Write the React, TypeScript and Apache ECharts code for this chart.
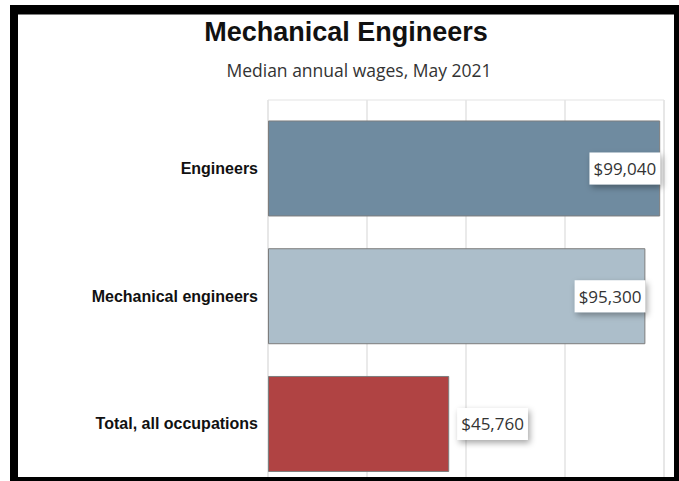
import React, { useEffect, useRef } from "react";
import * as echarts from "echarts";

const titleText = "Mechanical Engineers";
const subtitleText = "Median annual wages, May 2021";
const categories = ["Engineers", "Mechanical engineers", "Total, all occupations"];
const wages = [99040, 95300, 45760];
const barColors = ["#6f8ba0", "#acbeca", "#b04343"];
const axisMin = 0;
const axisMax = 100000;
const axisInterval = 25000;

const fmt = (v: number) => "$" + v.toLocaleString("en-US");

export default function App() {
  const ref = useRef<HTMLDivElement>(null);
  useEffect(() => {
    if (!ref.current) return;
    const chart = echarts.init(ref.current, null, { renderer: "svg" });
    const labelBase = {
      show: true,
      formatter: (p: any) => fmt(p.value),
      fontFamily: "Open Sans",
      fontSize: 17,
      color: "#333333",
      backgroundColor: "#ffffff",
      padding: [6, 4, 6, 4],
      lineHeight: 20,
      shadowColor: "rgba(0,0,0,0.35)",
      shadowBlur: 6,
      shadowOffsetX: 2,
      shadowOffsetY: 3,
    };
    const data = wages.map((v, i) => {
      const inside = v > axisMax * 0.8;
      return {
        value: v,
        itemStyle: { color: barColors[i] },
        label: inside
          ? { ...labelBase, position: "insideRight", distance: 0 }
          : { ...labelBase, position: "right", distance: 8 },
      };
    });
    chart.setOption({
      animation: false,
      backgroundColor: "#ffffff",
      title: [
        {
          text: titleText,
          left: 346,
          top: 18,
          padding: 0,
          textAlign: "center",
          textStyle: {
            fontFamily: "Liberation Sans",
            fontWeight: "bold",
            fontSize: 27,
            color: "#111111",
          },
        },
        {
          text: subtitleText,
          left: 359,
          top: 61,
          padding: 0,
          textAlign: "center",
          textStyle: {
            fontFamily: "Open Sans",
            fontWeight: "normal",
            fontSize: 17.5,
            color: "#333333",
          },
        },
      ],
      grid: [
        {
          left: 268,
          top: 104.6,
          width: 396,
          height: 383.25,
          containLabel: false,
          outerBoundsMode: "none",
        },
        {
          left: 268,
          top: 100,
          width: 396,
          height: 392,
          outerBoundsMode: "none",
          show: true,
          borderColor: "#e3e3e3",
          borderWidth: 1,
          backgroundColor: "transparent",
          z: 0,
        },
      ],
      xAxis: [
        {
          type: "value",
          gridIndex: 0,
          min: axisMin,
          max: axisMax,
          interval: axisInterval,
          axisLabel: { show: false },
          axisLine: { show: false },
          axisTick: { show: false },
          splitLine: { show: false },
        },
        {
          type: "value",
          gridIndex: 1,
          min: axisMin,
          max: axisMax,
          interval: axisInterval,
          axisLabel: { show: false },
          axisLine: { show: false },
          axisTick: { show: false },
          splitLine: { show: true, lineStyle: { color: "#e3e3e3", width: 1.5 } },
        },
      ],
      yAxis: [
        {
          type: "category",
          gridIndex: 0,
          data: categories,
          inverse: true,
          axisLine: { show: false },
          axisTick: { show: false },
          axisLabel: {
            margin: 10,
            fontFamily: "Liberation Sans",
            fontWeight: "bold",
            fontSize: 16,
            color: "#111111",
          },
        },
        { type: "value", gridIndex: 1, show: false, min: 0, max: 1 },
      ],
      series: [
        {
          type: "bar",
          xAxisIndex: 0,
          yAxisIndex: 0,
          barWidth: 96,
          data,
          itemStyle: { borderColor: "#7d7d7d", borderWidth: 1 },
          z: 3,
        },
      ],
      graphic: [
        { type: "rect", z: 100, shape: { x: 10, y: 5, width: 669, height: 9.5 }, style: { fill: "#000" } },
        { type: "rect", z: 100, shape: { x: 10, y: 5, width: 8, height: 476 }, style: { fill: "#000" } },
        { type: "rect", z: 100, shape: { x: 674, y: 5, width: 5, height: 476 }, style: { fill: "#000" } },
        { type: "rect", z: 100, shape: { x: 10, y: 477, width: 669, height: 4 }, style: { fill: "#000" } },
      ],
    });
    return () => chart.dispose();
  }, []);
  return (
    <div
      ref={ref}
      style={{ position: "absolute", left: 0, top: 0, width: 679, height: 481, background: "#fff" }}
    />
  );
}
